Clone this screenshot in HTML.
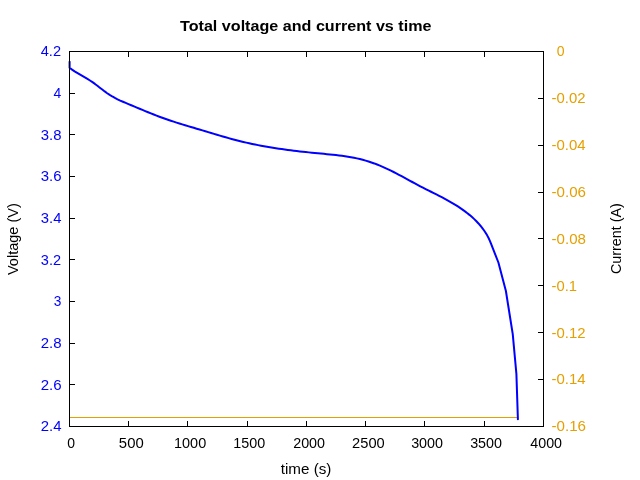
<!DOCTYPE html>
<html><head><meta charset="utf-8"><style>
html,body{margin:0;padding:0;background:#fff;width:640px;height:480px;overflow:hidden}
svg{display:block;will-change:transform}
text{font-family:"Liberation Sans",sans-serif}
</style></head><body>
<svg width="640" height="480" viewBox="0 0 640 480">
<rect width="640" height="480" fill="#fff"/>
<path d="M69.5,417.5H517" stroke="#e69f00" stroke-width="1" fill="none"/>
<path d="M69.60,61.80 L69.59,67.80 L72.08,69.61 L74.61,71.30 L77.16,72.88 L79.73,74.40 L82.31,75.89 L84.88,77.38 L87.44,78.90 L89.98,80.48 L92.49,82.15 L94.96,83.93 L97.40,85.78 L99.84,87.67 L102.27,89.56 L104.72,91.43 L107.20,93.23 L109.71,94.92 L112.28,96.49 L114.89,97.94 L117.55,99.28 L120.24,100.55 L122.97,101.75 L125.71,102.92 L128.48,104.06 L131.26,105.22 L134.04,106.38 L136.84,107.56 L139.64,108.74 L142.45,109.92 L145.26,111.09 L148.08,112.26 L150.91,113.41 L153.74,114.54 L156.57,115.65 L159.41,116.73 L162.26,117.78 L165.10,118.79 L167.96,119.78 L170.81,120.74 L173.67,121.67 L176.53,122.59 L179.40,123.49 L182.26,124.37 L185.14,125.24 L188.01,126.11 L190.89,126.97 L193.78,127.83 L196.66,128.68 L199.55,129.55 L202.45,130.41 L205.34,131.29 L208.24,132.16 L211.15,133.04 L214.05,133.91 L216.97,134.78 L219.88,135.64 L222.80,136.49 L225.72,137.33 L228.64,138.15 L231.57,138.96 L234.50,139.75 L237.43,140.51 L240.37,141.25 L243.31,141.96 L246.25,142.64 L249.20,143.30 L252.15,143.94 L255.11,144.55 L258.06,145.13 L261.02,145.70 L263.98,146.24 L266.95,146.77 L269.92,147.27 L272.89,147.75 L275.87,148.22 L278.85,148.67 L281.83,149.10 L284.81,149.52 L287.80,149.92 L290.79,150.30 L293.78,150.68 L296.78,151.04 L299.78,151.39 L302.78,151.73 L305.79,152.06 L308.79,152.38 L311.81,152.69 L314.82,152.99 L317.84,153.29 L320.86,153.58 L323.88,153.87 L326.90,154.16 L329.93,154.46 L332.95,154.77 L335.96,155.10 L338.98,155.45 L341.99,155.83 L344.99,156.25 L347.98,156.71 L350.96,157.21 L353.93,157.77 L356.89,158.39 L359.83,159.06 L362.75,159.81 L365.66,160.62 L368.56,161.50 L371.43,162.44 L374.28,163.44 L377.10,164.51 L379.91,165.63 L382.69,166.81 L385.44,168.04 L388.18,169.32 L390.89,170.64 L393.59,171.99 L396.28,173.37 L398.95,174.78 L401.62,176.21 L404.28,177.65 L406.94,179.10 L409.59,180.55 L412.25,182.00 L414.91,183.44 L417.58,184.87 L420.25,186.28 L422.94,187.67 L425.63,189.05 L428.33,190.41 L431.02,191.76 L433.72,193.11 L436.42,194.47 L439.10,195.84 L441.78,197.23 L444.45,198.63 L447.10,200.07 L449.73,201.54 L452.34,203.04 L454.93,204.59 L457.49,206.19 L460.02,207.85 L462.52,209.57 L464.98,211.34 L467.39,213.19 L469.74,215.10 L472.04,217.08 L474.26,219.13 L476.41,221.25 L478.48,223.45 L480.45,225.72 L482.33,228.07 L484.10,230.50 L485.75,233.01 L487.29,235.60 L488.70,238.28 L489.97,241.05 L491.10,243.90 L498.40,262.50 L505.90,291.00 L512.75,334.20 L516.40,373.90 L517.90,419.30" stroke="#0000ff" stroke-width="2" fill="none" stroke-linejoin="round" stroke-linecap="round"/>
<path d="M128.5,421V426 M128.5,52V57 M187.5,421V426 M187.5,52V57 M247.5,421V426 M247.5,52V57 M306.5,421V426 M306.5,52V57 M365.5,421V426 M365.5,52V57 M424.5,421V426 M424.5,52V57 M484.5,421V426 M484.5,52V57 M70,93.5H75 M70,134.5H75 M70,176.5H75 M70,218.5H75 M70,259.5H75 M70,301.5H75 M70,343.5H75 M70,384.5H75 M543,98.5H538 M543,145.5H538 M543,192.5H538 M543,238.5H538 M543,285.5H538 M543,332.5H538 M543,379.5H538" stroke="#000" stroke-width="1" fill="none"/>
<rect x="69.5" y="51.5" width="474" height="375" stroke="#000" stroke-width="1" fill="none"/>
<text transform="translate(40.77,56.00) scale(1.0566,1)" font-size="13.8" fill="#0000ff">4.2</text>
<text transform="translate(53.59,98.00) scale(1.0112,1)" font-size="13.8" fill="#0000ff">4</text>
<text transform="translate(40.78,140.00) scale(1.0819,1)" font-size="13.8" fill="#0000ff">3.8</text>
<text transform="translate(40.78,181.00) scale(1.0846,1)" font-size="13.8" fill="#0000ff">3.6</text>
<text transform="translate(40.79,223.00) scale(1.0770,1)" font-size="13.8" fill="#0000ff">3.4</text>
<text transform="translate(40.80,265.00) scale(1.0549,1)" font-size="13.8" fill="#0000ff">3.2</text>
<text transform="translate(53.70,306.00) scale(0.9921,1)" font-size="13.8" fill="#0000ff">3</text>
<text transform="translate(40.66,348.00) scale(1.0884,1)" font-size="13.8" fill="#0000ff">2.8</text>
<text transform="translate(40.66,390.00) scale(1.0911,1)" font-size="13.8" fill="#0000ff">2.6</text>
<text transform="translate(40.67,431.00) scale(1.0834,1)" font-size="13.8" fill="#0000ff">2.4</text>
<text transform="translate(556.69,56.00) scale(1.0188,1)" font-size="13.8" fill="#e69f00">0</text>
<text transform="translate(551.58,103.00) scale(1.0817,1)" font-size="13.8" fill="#e69f00">-0.02</text>
<text transform="translate(551.58,150.00) scale(1.0842,1)" font-size="13.8" fill="#e69f00">-0.04</text>
<text transform="translate(551.57,197.00) scale(1.0959,1)" font-size="13.8" fill="#e69f00">-0.06</text>
<text transform="translate(551.57,244.00) scale(1.0931,1)" font-size="13.8" fill="#e69f00">-0.08</text>
<text transform="translate(551.59,291.00) scale(1.0709,1)" font-size="13.8" fill="#e69f00">-0.1</text>
<text transform="translate(551.58,338.00) scale(1.0817,1)" font-size="13.8" fill="#e69f00">-0.12</text>
<text transform="translate(551.58,384.00) scale(1.0842,1)" font-size="13.8" fill="#e69f00">-0.14</text>
<text transform="translate(551.57,431.00) scale(1.0959,1)" font-size="13.8" fill="#e69f00">-0.16</text>
<text transform="translate(67.22,448.00) scale(1.0122,1)" font-size="13.8" fill="#000">0</text>
<text transform="translate(118.87,448.00) scale(1.0791,1)" font-size="13.8" fill="#000">500</text>
<text transform="translate(174.05,448.00) scale(1.0479,1)" font-size="13.8" fill="#000">1000</text>
<text transform="translate(233.31,448.00) scale(1.0377,1)" font-size="13.8" fill="#000">1500</text>
<text transform="translate(293.18,448.00) scale(1.0385,1)" font-size="13.8" fill="#000">2000</text>
<text transform="translate(352.06,448.00) scale(1.0639,1)" font-size="13.8" fill="#000">2500</text>
<text transform="translate(411.15,448.00) scale(1.0394,1)" font-size="13.8" fill="#000">3000</text>
<text transform="translate(470.15,448.00) scale(1.0394,1)" font-size="13.8" fill="#000">3500</text>
<text transform="translate(530.33,448.00) scale(1.0335,1)" font-size="13.8" fill="#000">4000</text>
<text transform="translate(180.02,31.00) scale(1.1524,1)" font-size="14.0" font-weight="bold" fill="#000">Total voltage and current vs time</text>
<text transform="translate(280.78,474.00) scale(1.1014,1)" font-size="13.8" fill="#000">time (s)</text>
<text transform="translate(18.00,275.04) rotate(-90) scale(1.0534,1)" font-size="13.8" fill="#000">Voltage (V)</text>
<text transform="translate(621.00,274.06) rotate(-90) scale(1.0389,1)" font-size="13.8" fill="#000">Current (A)</text>
</svg>
</body></html>
